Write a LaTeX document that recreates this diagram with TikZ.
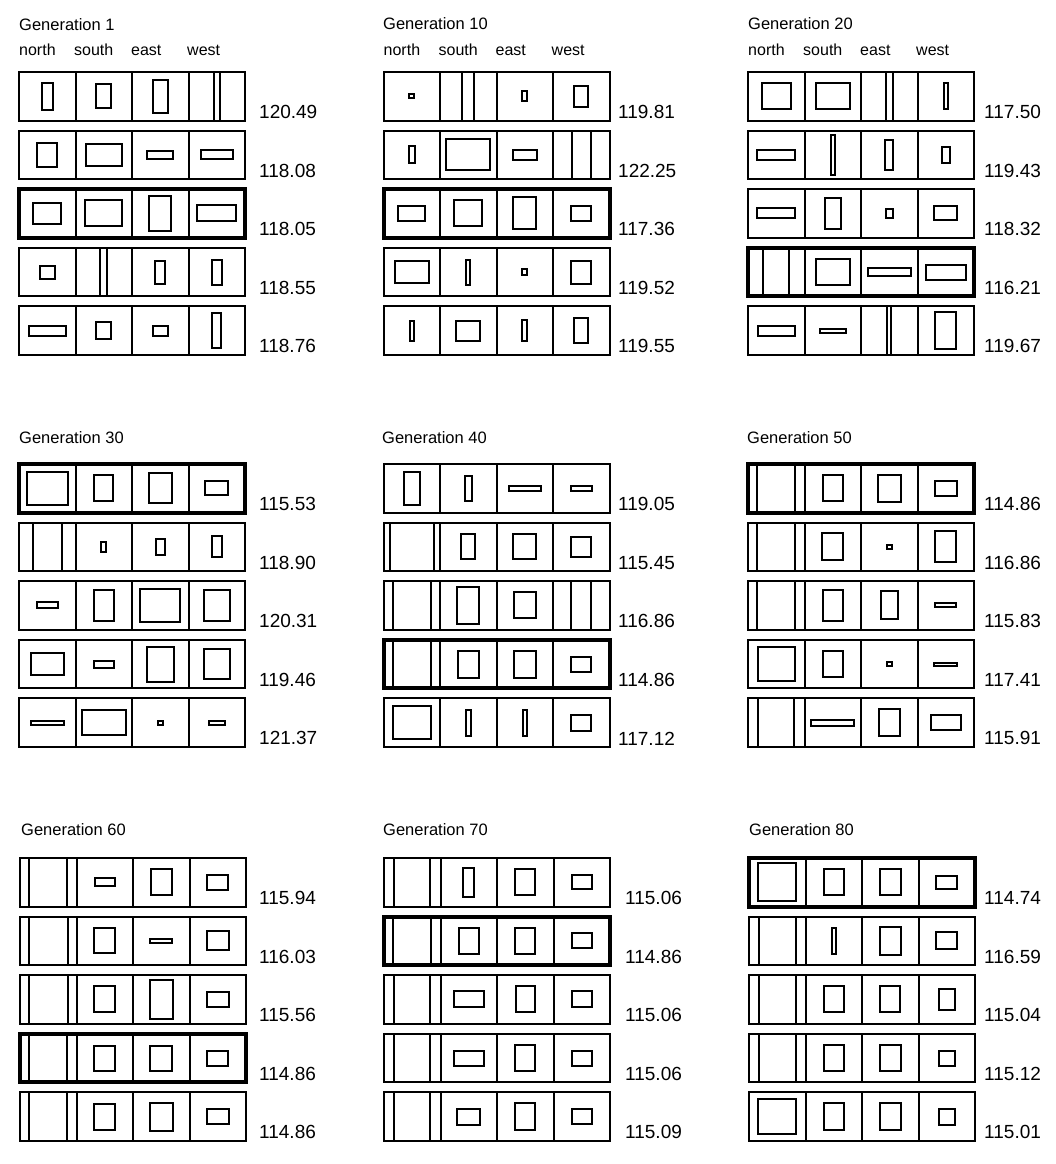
\documentclass[tikz,border=0pt]{standalone}
\usepackage{fontspec}
\setmainfont{Liberation Sans}
\tikzset{
  cellline/.style={line width=2pt},
  normrow/.style={line width=2pt},
  thickrow/.style={line width=4pt},
  innerbox/.style={line width=2pt},
  num/.style={anchor=west, inner sep=0pt, font=\fontsize{19}{22}\selectfont},
  gentitle/.style={anchor=west, inner sep=0pt, font=\fontsize{16.5}{19}\selectfont},
  hdr/.style={anchor=west, inner sep=0pt, font=\fontsize{16}{19}\selectfont},
}
% #1 name, #2 x0, #3 panel top, #4 row index, #5 border style, #6 cells w/h, #7 number x, #8 number
\newcommand{\genrow}[8]{%
  \pgfmathsetmacro{\gRowTop}{#3+58.6*(#4-1)}
  \foreach[count=\k] \w/\h in {#6}{
    \draw[innerbox] ({#2+56.5*\k-28.25-(\w-2)/2},{\gRowTop+24.25-(\h-2)/2}) rectangle ++({\w-2},{\h-2});
  }
  \foreach \k in {1,2,3}{
    \draw[cellline] ({#2+56.5*\k},\gRowTop) -- ++(0,48.5);
  }
  \draw[#5] (#2,\gRowTop) rectangle ++(226,48.5);
  \node[num] (#1) at (#7,{\gRowTop+40}) {#8};
}
\newcommand{\genheader}[3]{% #1 prefix, #2 x0, #3 y
  \node[hdr] (#1n) at (#2,#3) {north};
  \node[hdr] (#1s) at ({#2+55},#3) {south};
  \node[hdr] (#1e) at ({#2+112},#3) {east};
  \node[hdr] (#1w) at ({#2+168},#3) {west};
}
\begin{document}
\begin{tikzpicture}[x=1pt,y=-1pt]
\fill[white] (0,0) rectangle (1056,1164);
\useasboundingbox (0,0) rectangle (1056,1164);

% ---------- Generation 1
\node[gentitle] (t1) at (19,25) {Generation 1};
\genheader{hA}{19}{50}
\genrow{a1}{19}{72}{1}{normrow}{13/29,17/26,17/35,8/50.5}{259}{120.49}
\genrow{a2}{19}{72}{2}{normrow}{22/26,38/24,28/10,34/11}{259}{118.08}
\genrow{a3}{19}{72}{3}{thickrow}{30/23,39/28,24/37,41/18}{259}{118.05}
\genrow{a4}{19}{72}{4}{normrow}{17/15,9/50.5,12/25,12/27}{259}{118.55}
\genrow{a5}{19}{72}{5}{normrow}{39/12,17/19,17/12,11/37}{259}{118.76}

% ---------- Generation 10
\node[gentitle] (t2) at (383,24) {Generation 10};
\genheader{hB}{383.5}{50}
\genrow{b1}{383.5}{72}{1}{normrow}{7/6,14/50.5,7/12,16/23}{618}{119.81}
\genrow{b2}{383.5}{72}{2}{normrow}{8/19,46/33,26/12,21/50.5}{618}{122.25}
\genrow{b3}{383.5}{72}{3}{thickrow}{29/17,30/28,25/34,22/17}{618}{117.36}
\genrow{b4}{383.5}{72}{4}{normrow}{36/24,6/27,7/8,22/25}{618}{119.52}
\genrow{b5}{383.5}{72}{5}{normrow}{6/22,26/22,7/23,16/27}{618}{119.55}

% ---------- Generation 20
\node[gentitle] (t3) at (748,23.5) {Generation 20};
\genheader{hC}{748}{50}
\genrow{c1}{748}{72}{1}{normrow}{31/28,36/28,9/50.5,6/28}{984}{117.50}
\genrow{c2}{748}{72}{2}{normrow}{40/12,6/42,10/32,10/18}{984}{119.43}
\genrow{c3}{748}{72}{3}{normrow}{40/12,18/33,9/11,25/16}{984}{118.32}
\genrow{c4}{748}{72}{4}{thickrow}{28/50.5,36/28,45/10,42/17}{984}{116.21}
\genrow{c5}{748}{72}{5}{normrow}{39/12,28/6,6/50.5,23/39}{984}{119.67}

% ---------- Generation 30
\node[gentitle] (t4) at (19,438) {Generation 30};
\genrow{d1}{19}{464}{1}{thickrow}{43/35,21/28,25/32,25/16}{259}{115.53}
\genrow{d2}{19}{464}{2}{normrow}{31/50.5,7/12,11/18,12/23}{259}{118.90}
\genrow{d3}{19}{464}{3}{normrow}{23/8,22/33,42/35,28/33}{259}{120.31}
\genrow{d4}{19}{464}{4}{normrow}{35/24,22/9,29/37,28/32}{259}{119.46}
\genrow{d5}{19}{464}{5}{normrow}{35/6,46/27,7/6,18/6}{259}{121.37}

% ---------- Generation 40
\node[gentitle] (t5) at (382,438) {Generation 40};
\genrow{e1}{383.5}{464}{1}{normrow}{18/35,9/27,34/7,23/7}{618}{119.05}
\genrow{e2}{383.5}{464}{2}{normrow}{46/50.5,16/27,25/27,22/22}{618}{115.45}
\genrow{e3}{383.5}{464}{3}{normrow}{40/50.5,24/39,24/28,22/50.5}{618}{116.86}
\genrow{e4}{383.5}{464}{4}{thickrow}{40/50.5,23/29,24/29,22/17}{618}{114.86}
\genrow{e5}{383.5}{464}{5}{normrow}{40/35,7/28,6/28,22/18}{618}{117.12}

% ---------- Generation 50
\node[gentitle] (t6) at (747,438) {Generation 50};
\genrow{f1}{748}{464}{1}{thickrow}{40/50.5,22/28,25/29,24/17}{984}{114.86}
\genrow{f2}{748}{464}{2}{normrow}{40/50.5,23/29,7/6,23/33}{984}{116.86}
\genrow{f3}{748}{464}{3}{normrow}{40/50.5,22/33,19/30,23/6}{984}{115.83}
\genrow{f4}{748}{464}{4}{normrow}{39/36,22/28,7/6,25/5}{984}{117.41}
\genrow{f5}{748}{464}{5}{normrow}{38/50.5,45/8,23/29,32/17}{984}{115.91}

% ---------- Generation 60
\node[gentitle] (t7) at (21,830) {Generation 60};
\genrow{g1}{20}{858}{1}{normrow}{40/50.5,22/10,23/28,23/17}{259}{115.94}
\genrow{g2}{20}{858}{2}{normrow}{41/50.5,23/27,24/6,24/21}{259}{116.03}
\genrow{g3}{20}{858}{3}{normrow}{41/50.5,23/28,25/41,24/17}{259}{115.56}
\genrow{g4}{20}{858}{4}{thickrow}{40/50.5,23/27,24/27,23/17}{259}{114.86}
\genrow{g5}{20}{858}{5}{normrow}{40/50.5,23/28,25/30,24/17}{259}{114.86}

% ---------- Generation 70
\node[gentitle] (t8) at (383,830) {Generation 70};
\genrow{h1}{384}{858}{1}{normrow}{38/50.5,13/31,22/28,22/16}{625}{115.06}
\genrow{h2}{384}{858}{2}{thickrow}{40/50.5,22/28,22/28,22/17}{625}{114.86}
\genrow{h3}{384}{858}{3}{normrow}{38/50.5,32/18,21/28,22/18}{625}{115.06}
\genrow{h4}{384}{858}{4}{normrow}{38/50.5,32/17,22/28,22/17}{625}{115.06}
\genrow{h5}{384}{858}{5}{normrow}{38/50.5,25/18,22/29,22/17}{625}{115.09}

% ---------- Generation 80
\node[gentitle] (t9) at (749,830) {Generation 80};
\genrow{i1}{749}{858}{1}{thickrow}{40/40,22/28,23/28,23/15}{984}{114.74}
\genrow{i2}{749}{858}{2}{normrow}{39/50.5,6/28,23/30,23/19}{984}{116.59}
\genrow{i3}{749}{858}{3}{normrow}{39/50.5,22/28,22/28,18/23}{984}{115.04}
\genrow{i4}{749}{858}{4}{normrow}{39/50.5,22/28,23/28,18/17}{984}{115.12}
\genrow{i5}{749}{858}{5}{normrow}{40/37,22/29,23/29,18/18}{984}{115.01}
\end{tikzpicture}
\end{document}
